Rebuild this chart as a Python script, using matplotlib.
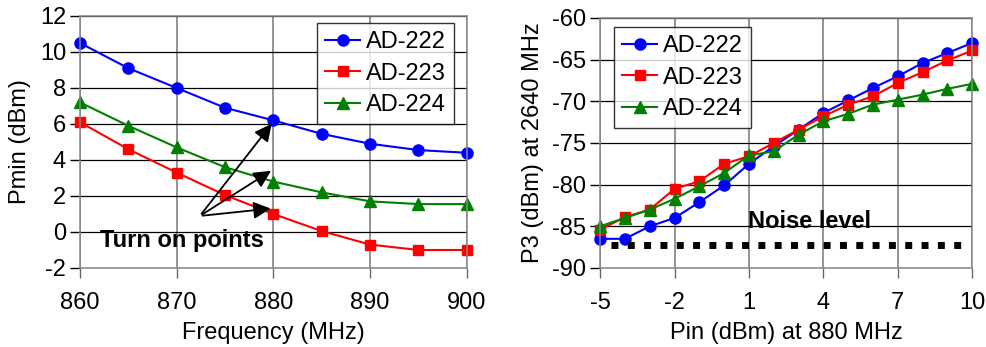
import matplotlib
matplotlib.use("Agg")
import matplotlib.pyplot as plt

plt.rcParams["font.family"] = ["Liberation Sans", "DejaVu Sans"]
plt.rcParams["axes.unicode_minus"] = False

# left panel: Pmin vs frequency
freq = [860, 865, 870, 875, 880, 885, 890, 895, 900]
pmin_222 = [10.5, 9.1, 8.0, 6.9, 6.2, 5.45, 4.9, 4.55, 4.4]
pmin_223 = [6.1, 4.6, 3.3, 2.05, 1.0, 0.05, -0.7, -1.0, -1.0]
pmin_224 = [7.2, 5.9, 4.7, 3.6, 2.8, 2.2, 1.7, 1.55, 1.55]
turn_on_targets = [(880, 6.13), (880, 3.48), (880, 1.32)]

# right panel: P3 at 2640 MHz vs Pin
pin = list(range(-5, 11))
p3_222 = [-86.5, -86.5, -85.0, -84.0, -82.1, -80.1, -77.5, -75.4,
          -73.4, -71.4, -69.9, -68.4, -67.0, -65.4, -64.2, -63.0]
p3_223 = [-85.4, -83.9, -83.0, -80.5, -79.6, -77.5, -76.6, -75.0,
          -73.4, -71.8, -70.4, -69.4, -67.8, -66.5, -65.1, -63.9]
p3_224 = [-85.0, -84.0, -83.0, -81.7, -80.2, -78.6, -76.5, -76.0,
          -74.0, -72.4, -71.5, -70.4, -69.8, -69.2, -68.5, -67.9]
noise_x = [-4.55, 9.75]
noise_y = [-87.2, -87.2]

FS = 17
STYLES = [("AD-222", "#0000ff", "o", 8), ("AD-223", "#ff0000", "s", 7), ("AD-224", "#008000", "^", 8.5)]

fig = plt.figure(figsize=(9.87, 3.47), dpi=100)
ax1 = fig.add_axes([0.081, 0.2277, 0.392, 0.7263])
ax2 = fig.add_axes([0.608, 0.2277, 0.377, 0.7205])


def style(ax):
    ax.grid(True, axis="y", color="black", linewidth=0.9)
    ax.grid(True, axis="x", color="#777777", linewidth=1.1)
    ax.set_axisbelow(True)
    for s in ax.spines.values():
        s.set_color("#888888")
        s.set_linewidth(1.1)
    ax.tick_params(labelsize=FS, length=7, width=1.0, color="#666666")
    ax.tick_params(axis="y", color="black", pad=3)
    ax.tick_params(axis="x", pad=10)


def legend(ax, loc, anchor):
    leg = ax.legend(loc=loc, bbox_to_anchor=anchor, fontsize=FS, frameon=True,
                    fancybox=False, edgecolor="black", handlelength=1.45, borderpad=0.35,
                    labelspacing=0.4, handletextpad=0.25, borderaxespad=0.0)
    leg.get_frame().set_linewidth(1.0)


style(ax1)
for ys, (name, c, m, ms) in zip([pmin_222, pmin_223, pmin_224], STYLES):
    ax1.plot(freq, ys, color=c, marker=m, markersize=ms, linewidth=1.5, label=name, clip_on=False)
ax1.set_xlim(860, 900)
ax1.set_ylim(-2, 12)
ax1.set_xticks([860, 870, 880, 890, 900])
ax1.set_yticks(range(-2, 13, 2))
ax1.set_xlabel("Frequency (MHz)", fontsize=FS, labelpad=6)
ax1.set_ylabel("Pmin (dBm)", fontsize=FS, labelpad=6)
for tx, ty in turn_on_targets:
    ax1.annotate("", xy=(tx, ty), xytext=(872.4, 0.89),
                 arrowprops=dict(arrowstyle="-|>", color="black", lw=1.3, mutation_scale=26))
ax1.text(862.1, -0.45, "Turn on points", fontsize=FS, fontweight="bold", va="center", ha="left")
legend(ax1, "upper right", (0.966, 0.972))

style(ax2)
for ys, (name, c, m, ms) in zip([p3_222, p3_223, p3_224], STYLES):
    ax2.plot(pin, ys, color=c, marker=m, markersize=ms, linewidth=1.5, label=name, clip_on=False)
ax2.plot(noise_x, noise_y, color="black", linewidth=5.0, linestyle=(0, (1, 1.35)),
         dash_capstyle="butt")
ax2.set_xlim(-5, 10)
ax2.set_ylim(-90, -60)
ax2.set_xticks([-5, -2, 1, 4, 7, 10])
ax2.set_yticks(range(-90, -59, 5))
ax2.set_xlabel("Pin (dBm) at 880 MHz", fontsize=FS, labelpad=6)
ax2.set_ylabel("P3 (dBm) at 2640 MHz", fontsize=FS, labelpad=6)
ax2.text(0.97, -84.45, "Noise level", fontsize=FS, fontweight="bold", va="center", ha="left")
legend(ax2, "upper left", (0.038, 0.964))

fig.savefig("out.png", dpi=100, facecolor="white")
